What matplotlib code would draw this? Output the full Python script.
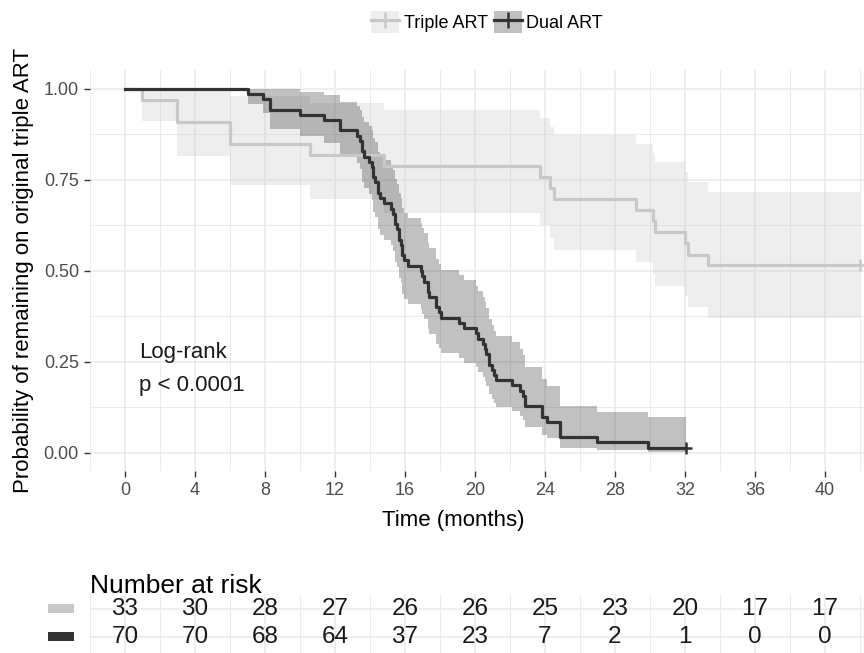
import matplotlib
matplotlib.use("Agg")
import matplotlib.pyplot as plt
from matplotlib.patches import Patch, Rectangle
from matplotlib.lines import Line2D
from matplotlib.ticker import MultipleLocator

plt.rcParams['font.family'] = ['Liberation Sans', 'DejaVu Sans']

# Kaplan-Meier steps (time in months, survival, 95% CI)
tri_time = [0, 1.0, 3.0, 6.0, 10.6, 14.8, 23.7, 24.3, 24.5, 29.2, 30.2, 30.3, 32.0, 32.2, 33.3, 42.0]
tri_surv = [1.0, 0.970, 0.909, 0.848, 0.818, 0.788, 0.758, 0.727, 0.697, 0.667, 0.636, 0.606,
            0.576, 0.545, 0.515, 0.515]
tri_lower = [1.0, 0.913, 0.816, 0.735, 0.697, 0.660, 0.625, 0.590, 0.557, 0.524, 0.492, 0.460,
             0.430, 0.400, 0.370, 0.370]
tri_upper = [1.0, 1.0, 1.0, 0.980, 0.961, 0.941, 0.919, 0.896, 0.873, 0.849, 0.824, 0.798,
             0.772, 0.745, 0.717, 0.717]

dual_time = [0, 7.05, 7.9, 8.3, 10.0, 11.4, 12.3,
             13.25, 13.45, 13.55, 13.65, 13.95, 14.1, 14.2, 14.3, 14.45, 14.6, 14.8,
             15.2, 15.3, 15.45, 15.55, 15.65, 15.75, 15.85, 15.95,
             16.2, 16.9, 17.0, 17.1, 17.3, 17.4, 17.8, 17.95, 18.05,
             19.1, 19.4,
             20.05, 20.2, 20.45, 20.55, 20.65, 20.8, 20.95, 21.1, 21.2,
             22.1, 22.55, 22.75, 22.85,
             23.85, 24.1, 24.85,
             26.95, 29.9, 32.05]
dual_surv = [1.0, 0.986, 0.971, 0.943, 0.929, 0.914, 0.886,
             0.871, 0.857, 0.829, 0.814, 0.800, 0.786, 0.757, 0.743, 0.714, 0.700, 0.686,
             0.671, 0.657, 0.629, 0.614, 0.586, 0.571, 0.543, 0.529,
             0.514, 0.500, 0.486, 0.471, 0.443, 0.429, 0.400, 0.386, 0.371,
             0.357, 0.343,
             0.329, 0.314, 0.300, 0.286, 0.271, 0.243, 0.229, 0.214, 0.200,
             0.186, 0.171, 0.157, 0.129,
             0.100, 0.086, 0.043,
             0.029, 0.014, 0.014]
dual_lower = [1.0, 0.958, 0.933, 0.890, 0.870, 0.851, 0.814,
              0.796, 0.779, 0.745, 0.728, 0.712, 0.695, 0.663, 0.647, 0.616, 0.600, 0.585,
              0.570, 0.555, 0.525, 0.510, 0.481, 0.466, 0.438, 0.424,
              0.409, 0.396, 0.382, 0.368, 0.341, 0.327, 0.300, 0.287, 0.274,
              0.261, 0.248,
              0.235, 0.222, 0.210, 0.197, 0.185, 0.161, 0.149, 0.137, 0.125,
              0.114, 0.102, 0.091, 0.070,
              0.050, 0.040, 0.014,
              0.007, 0.002, 0.002]
dual_upper = [1.0, 1.0, 1.0, 0.999, 0.991, 0.982, 0.964,
              0.953, 0.943, 0.922, 0.910, 0.899, 0.888, 0.864, 0.853, 0.828, 0.816, 0.804,
              0.791, 0.778, 0.753, 0.740, 0.714, 0.700, 0.673, 0.660,
              0.645, 0.632, 0.618, 0.604, 0.576, 0.562, 0.533, 0.519, 0.503,
              0.489, 0.474,
              0.460, 0.444, 0.429, 0.414, 0.398, 0.367, 0.352, 0.335, 0.320,
              0.304, 0.286, 0.270, 0.237,
              0.202, 0.184, 0.130,
              0.112, 0.100, 0.100]

# censored observations at the end of each curve
tri_censor = ([42.0], [0.515])
dual_censor = ([32.05], [0.014])

risk_times = [0, 4, 8, 12, 16, 20, 24, 28, 32, 36, 40]
tri_risk = [33, 30, 28, 27, 26, 26, 25, 23, 20, 17, 17]
dual_risk = [70, 70, 68, 64, 37, 23, 7, 2, 1, 0, 0]

groups = ["Triple ART", "Dual ART"]
colors = ["#c8c8c8", "#333333"]

W, H = 864, 653
fig = plt.figure(figsize=(W / 100, H / 100), dpi=100)

XLIM = (-2.0, 42.23)


def style_grid(a):
    for s in a.spines.values():
        s.set_visible(False)
    a.xaxis.set_major_locator(MultipleLocator(4))
    a.xaxis.set_minor_locator(MultipleLocator(2))
    a.grid(True, which='major', color='#ebebeb', lw=1.2)
    a.grid(True, which='minor', color='#ebebeb', lw=0.7)
    a.set_axisbelow(True)


# main survival panel
ax = fig.add_axes([90 / W, 1 - 471 / H, 774 / W, 401 / H])
style_grid(ax)
ax.yaxis.set_major_locator(MultipleLocator(0.25))
ax.yaxis.set_minor_locator(MultipleLocator(0.125))
ax.set_xlim(*XLIM)
ax.set_ylim(-0.0495, 1.052)

ax.fill_between(tri_time, tri_lower, tri_upper, step='post', color=colors[0], alpha=0.3, lw=0)
ax.fill_between(dual_time, dual_lower, dual_upper, step='post', color=colors[1], alpha=0.3, lw=0)
ax.step(tri_time, tri_surv, where='post', color=colors[0], lw=2.3)
ax.step(dual_time, dual_surv, where='post', color=colors[1], lw=2.3)
ax.plot(*tri_censor, ls='none', marker='+', ms=9, mew=1.8, color=colors[0])
ax.plot(*dual_censor, ls='none', marker='+', ms=9, mew=1.8, color=colors[1])

ax.set_yticks([0, 0.25, 0.5, 0.75, 1.0])
ax.set_yticklabels(["0.00", "0.25", "0.50", "0.75", "1.00"])
ax.set_xticks(risk_times)
ax.tick_params(which='major', direction='out', length=4, width=1.0, color='#333333',
               labelcolor='#4d4d4d', labelsize=13, pad=4)
ax.tick_params(which='minor', length=0)

ax.set_xlabel("Time (months)", fontsize=16)
ax.xaxis.set_label_coords(0.469, -0.097)
ax.set_ylabel("Probability of remaining on original triple ART", fontsize=16)
ax.yaxis.set_label_coords(-0.072, 0.5)

ax.text(0.8, 0.262, "Log-rank", fontsize=16, va='baseline', color='#1a1a1a')
ax.text(0.8, 0.170, "p < 0.0001", fontsize=16, va='baseline', color='#1a1a1a')

# legend on top
handles = [
    (Patch(facecolor=colors[0], alpha=0.3, lw=0),
     Line2D([], [], color=colors[0], lw=2.3, marker='+', ms=11, mew=1.8)),
    (Patch(facecolor=colors[1], alpha=0.3, lw=0),
     Line2D([], [], color=colors[1], lw=2.3, marker='+', ms=11, mew=1.8)),
]
fig.legend(handles, groups, loc='center', bbox_to_anchor=(487 / W, 1 - 22 / H), ncol=2,
           frameon=False, fontsize=13, handlelength=1.55, handleheight=1.45,
           handletextpad=0.25, columnspacing=0.35, borderaxespad=0, borderpad=0)

# number at risk table
fig.text(90 / W, 1 - 586 / H, "Number at risk", fontsize=19, va='center', ha='left')
axt = fig.add_axes([90 / W, 0, 774 / W, (H - 594) / H])
style_grid(axt)
axt.set_xlim(*XLIM)
axt.set_ylim(0.43, 2.55)
axt.set_yticks([1, 2])
axt.set_xticks(risk_times)
axt.tick_params(which='both', length=0, labelbottom=False, labelleft=False)
for t, a, b in zip(risk_times, tri_risk, dual_risk):
    axt.text(t, 2, str(a), ha='center', va='center', fontsize=17.5, color='#1a1a1a')
    axt.text(t, 1, str(b), ha='center', va='center', fontsize=17.5, color='#1a1a1a')

fig.add_artist(Rectangle((48 / W, 1 - 613 / H), 26 / W, 9 / H, transform=fig.transFigure,
                         facecolor=colors[0], lw=0))
fig.add_artist(Rectangle((48 / W, 1 - 641 / H), 26 / W, 9 / H, transform=fig.transFigure,
                         facecolor=colors[1], lw=0))

fig.savefig("out.png", dpi=100)
